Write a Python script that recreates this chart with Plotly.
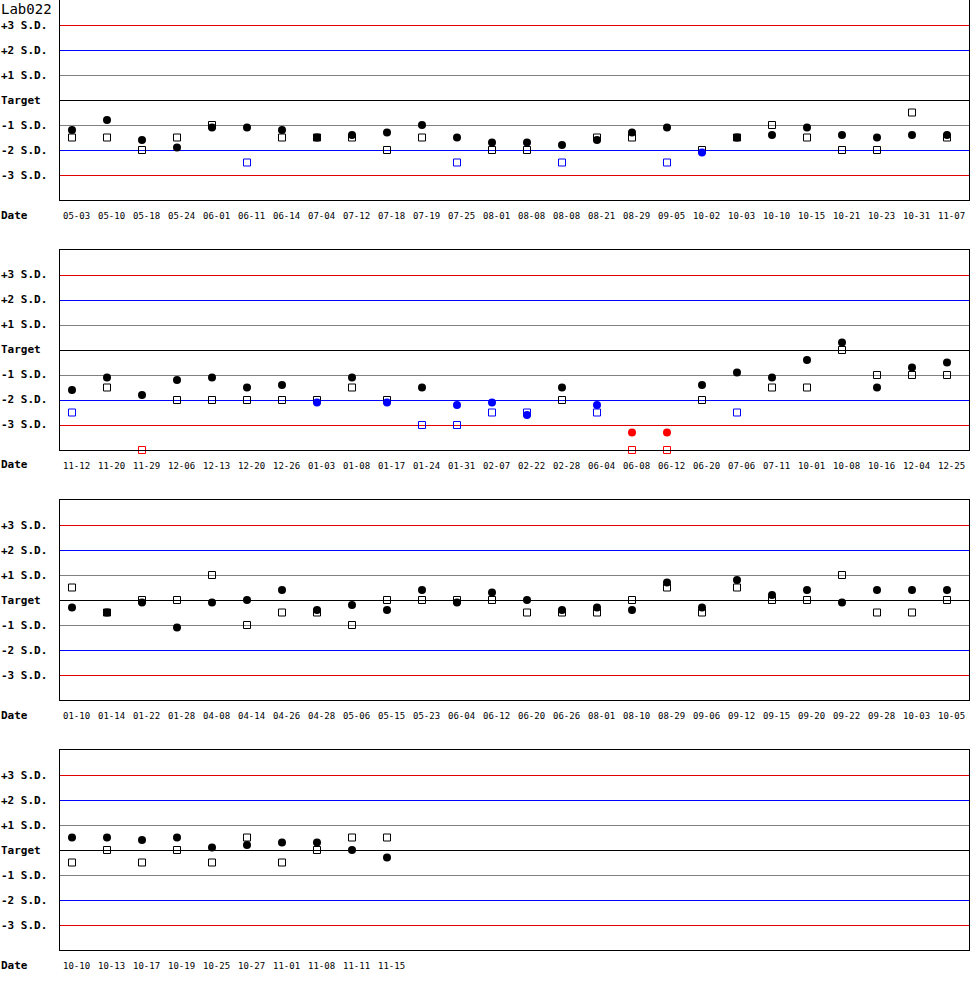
import plotly.graph_objects as go

# Lab QC chart (Levey-Jennings), valori in unità di S.D.
lab_name = "Lab022"
sd_levels = [3, 2, 1, 0, -1, -2, -3]
sd_labels = ["+3 S.D.", "+2 S.D.", "+1 S.D.", "Target", "-1 S.D.", "-2 S.D.", "-3 S.D."]

dates_1 = ["05-03", "05-10", "05-18", "05-24", "06-01", "06-11", "06-14", "07-04", "07-12",
           "07-18", "07-19", "07-25", "08-01", "08-08", "08-08", "08-21", "08-29", "09-05",
           "10-02", "10-03", "10-10", "10-15", "10-21", "10-23", "10-31", "11-07"]
circle_1 = [-1.2, -0.8, -1.6, -1.9, -1.1, -1.1, -1.2, -1.5, -1.4, -1.3, -1.0, -1.5, -1.7,
            -1.7, -1.8, -1.6, -1.3, -1.1, -2.1, -1.5, -1.4, -1.1, -1.4, -1.5, -1.4, -1.4]
square_1 = [-1.5, -1.5, -2.0, -1.5, -1.0, -2.5, -1.5, -1.5, -1.5, -2.0, -1.5, -2.5, -2.0,
            -2.0, -2.5, -1.5, -1.5, -2.5, -2.0, -1.5, -1.0, -1.5, -2.0, -2.0, -0.5, -1.5]

dates_2 = ["11-12", "11-20", "11-29", "12-06", "12-13", "12-20", "12-26", "01-03", "01-08",
           "01-17", "01-24", "01-31", "02-07", "02-22", "02-28", "06-04", "06-08", "06-12",
           "06-20", "07-06", "07-11", "10-01", "10-08", "10-16", "12-04", "12-25"]
circle_2 = [-1.6, -1.1, -1.8, -1.2, -1.1, -1.5, -1.4, -2.1, -1.1, -2.1, -1.5, -2.2, -2.1,
            -2.6, -1.5, -2.2, -3.3, -3.3, -1.4, -0.9, -1.1, -0.4, 0.3, -1.5, -0.7, -0.5]
square_2 = [-2.5, -1.5, -4.0, -2.0, -2.0, -2.0, -2.0, -2.0, -1.5, -2.0, -3.0, -3.0, -2.5,
            -2.5, -2.0, -2.5, -4.0, -4.0, -2.0, -2.5, -1.5, -1.5, 0.0, -1.0, -1.0, -1.0]

dates_3 = ["01-10", "01-14", "01-22", "01-28", "04-08", "04-14", "04-26", "04-28", "05-06",
           "05-15", "05-23", "06-04", "06-12", "06-20", "06-26", "08-01", "08-10", "08-29",
           "09-06", "09-12", "09-15", "09-20", "09-22", "09-28", "10-03", "10-05"]
circle_3 = [-0.3, -0.5, -0.1, -1.1, -0.1, 0.0, 0.4, -0.4, -0.2, -0.4, 0.4, -0.1, 0.3,
            0.0, -0.4, -0.3, -0.4, 0.7, -0.3, 0.8, 0.2, 0.4, -0.1, 0.4, 0.4, 0.4]
square_3 = [0.5, -0.5, 0.0, 0.0, 1.0, -1.0, -0.5, -0.5, -1.0, 0.0, 0.0, 0.0, 0.0,
            -0.5, -0.5, -0.5, 0.0, 0.5, -0.5, 0.5, 0.0, 0.0, 1.0, -0.5, -0.5, 0.0]

dates_4 = ["10-10", "10-13", "10-17", "10-19", "10-25", "10-27", "11-01", "11-08", "11-11", "11-15"]
circle_4 = [0.5, 0.5, 0.4, 0.5, 0.1, 0.2, 0.3, 0.3, 0.0, -0.3]
square_4 = [-0.5, 0.0, -0.5, 0.0, -0.5, 0.5, -0.5, 0.0, 0.5, 0.5]

panels = [(dates_1, circle_1, square_1), (dates_2, circle_2, square_2),
          (dates_3, circle_3, square_3), (dates_4, circle_4, square_4)]

line_colors = {3: "#e00000", 2: "#0000ff", 1: "#808080", 0: "#000000"}
MONO = "DejaVu Sans Mono, Liberation Mono, monospace"
HALF_PX = 0.02  # mezzo pixel in unità S.D. (25 px per S.D.) per linee nitide


def qc_color(v):
    if abs(v) > 3:
        return "#ff0000"
    if abs(v) > 2:
        return "#0000ff"
    return "#000000"


fig = go.Figure()
layout = {}
shapes = []
annotations = []

H = 950.0  # altezza area grafico (1000 - margine basso)
for n, (dates, circles, squares) in enumerate(panels, start=1):
    xa = "x" if n == 1 else f"x{n}"
    ya = "y" if n == 1 else f"y{n}"
    top = (n - 1) * 250
    dom = [1 - (top + 200) / H, 1 - top / H]
    idx = list(range(len(dates)))

    layout["xaxis" if n == 1 else f"xaxis{n}"] = dict(
        domain=[0, 1], range=[-12 / 35, 909 / 35 - 12 / 35], anchor=ya,
        showgrid=False, zeroline=False, showticklabels=False, ticks="",
        showline=True, mirror=True, linecolor="black", linewidth=1, fixedrange=True)
    layout["yaxis" if n == 1 else f"yaxis{n}"] = dict(
        domain=dom, range=[-4, 4], anchor=xa,
        showgrid=False, zeroline=False, showticklabels=False, ticks="",
        showline=True, mirror=True, linecolor="black", linewidth=1, fixedrange=True)

    # linee S.D.
    for lv in sd_levels:
        shapes.append(dict(type="line", xref=f"{xa} domain", yref=ya, x0=0, x1=1,
                           y0=lv - HALF_PX, y1=lv - HALF_PX,
                           line=dict(color=line_colors[abs(lv)], width=1), layer="below"))

    # quadrati (prima) e cerchi (sopra)
    sq_line = [qc_color(v) for v in squares]
    sq_fill = [qc_color(s) if s == c else "rgba(0,0,0,0)" for s, c in zip(squares, circles)]
    fig.add_trace(go.Scatter(
        x=idx, y=squares, xaxis=xa, yaxis=ya, mode="markers", cliponaxis=False,
        marker=dict(symbol="square", size=7, color=sq_fill, line=dict(color=sq_line, width=1)),
        showlegend=False, hoverinfo="y"))
    fig.add_trace(go.Scatter(
        x=idx, y=circles, xaxis=xa, yaxis=ya, mode="markers", cliponaxis=False,
        marker=dict(symbol="circle", size=8, color=[qc_color(v) for v in circles], line=dict(width=0)),
        showlegend=False, hoverinfo="y"))

    # etichette S.D. a sinistra
    for lv, lab in zip(sd_levels, sd_labels):
        annotations.append(dict(text=lab, xref="paper", x=0, xshift=-61, xanchor="left",
                                yref=ya, y=lv, yanchor="middle", showarrow=False,
                                font=dict(family=MONO, size=11, color="black", weight="bold")))
    annotations.append(dict(text="Date", xref="paper", x=0, xshift=-61, xanchor="left",
                            yref=f"{ya} domain", y=0, yshift=-15, yanchor="middle", showarrow=False,
                            font=dict(family=MONO, size=11, color="black", weight="bold")))
    # date
    for i, d in zip(idx, dates):
        annotations.append(dict(text=d, xref=xa, x=i, xshift=4, xanchor="center",
                                yref=f"{ya} domain", y=0, yshift=-16, yanchor="middle", showarrow=False,
                                font=dict(family=MONO, size=9, color="black")))

annotations.append(dict(text=lab_name, xref="paper", x=0, xshift=-61, xanchor="left",
                        yref="paper", y=1, yshift=1, yanchor="top", showarrow=False,
                        font=dict(family=MONO, size=14, color="black")))

fig.update_layout(
    width=970, height=1000,
    margin=dict(l=60, r=1, t=0, b=50),
    paper_bgcolor="white", plot_bgcolor="white",
    shapes=shapes, annotations=annotations,
    **layout)

# niente margine della pagina, niente barra strumenti
fig.write_html("out.html", config={"displayModeBar": False},
               post_script="document.body.style.margin='0';")
